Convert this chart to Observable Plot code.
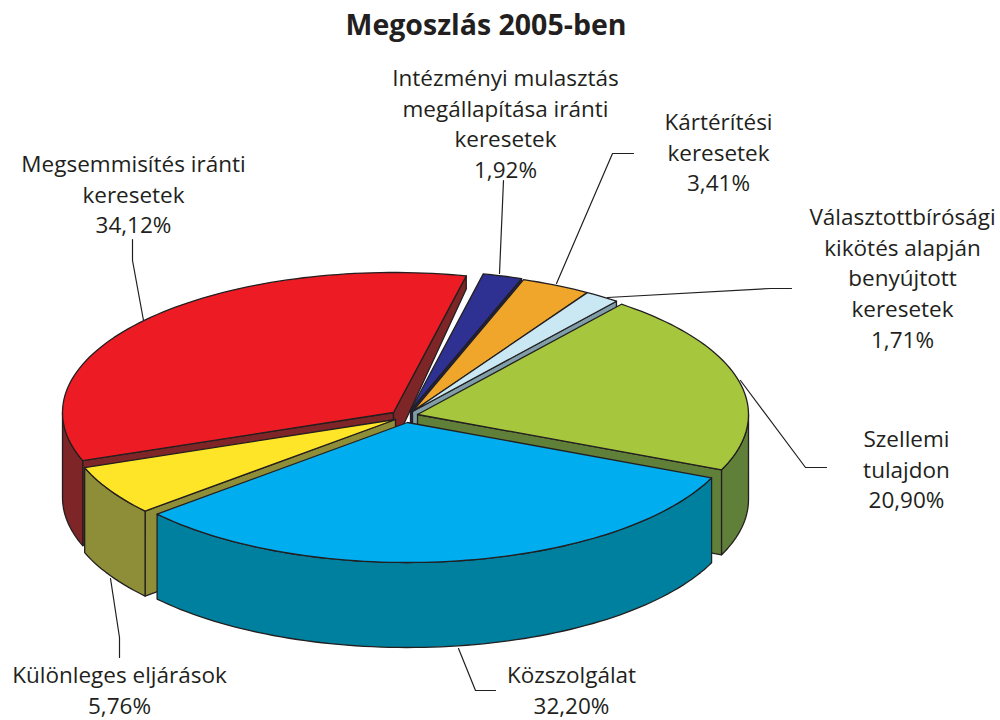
<!DOCTYPE html>
<html lang="hu">
<head>
<meta charset="utf-8">
<script src="https://cdn.jsdelivr.net/npm/d3@7"></script>
<script src="https://cdn.jsdelivr.net/npm/@observablehq/plot@0.6"></script>
<style>
html,body{margin:0;padding:0;background:#fff}
#title{height:50px;width:972px;text-align:center;font:bold 28.5px "Open Sans",sans-serif;color:#231f20;line-height:49px;white-space:nowrap}
#chart svg{display:block}
</style>
</head>
<body>
<div id="title">Megoszlás 2005-ben</div>
<div id="chart"></div>
<script>
// Slices, clockwise from the blue one
const names = ["Intézményi mulasztás\nmegállapítása iránti\nkeresetek","Kártérítési\nkeresetek","Választottbírósági\nkikötés alapján\nbenyújtott\nkeresetek","Szellemi\ntulajdon","Közszolgálat","Különleges eljárások","Megsemmisítés iránti\nkeresetek"];
const values = [1.92,3.41,1.71,20.90,32.20,5.76,34.12];
const valueTexts = ["1,92%","3,41%","1,71%","20,90%","32,20%","5,76%","34,12%"];
const topColors = ["#2e3192","#f0a52b","#c9e8f3","#a6c63e","#00aeef","#ffe528","#ed1c24"];
const sideColors = ["#1f2163","#a0701a","#7f9ea8","#60803a","#00809f","#8f8e38","#7d2527"];

// Layout of the exploded pie (page pixels)
const startAngle = 12.7, rx = 331, ry = 140, depth = 85;
const apexX = [410,412,412,417,407,395,393];
const apexY = [410,411,411,414,422,419,412];
const drawOrder = [6,0,1,2,3,5,4];
const shortWall = {index:6, outer:13, inner:34};
const labelX = [505,718,902,906,571,119,133];
const labelBase = [86,130,225,447,683,683,172];
const leaders = [
  [[503,180],[499,273]],
  [[633,153],[612,153],[556,283]],
  [[791,288],[770,288],[607,297]],
  [[826,467],[805,467],[740,380]],
  [[495,690],[475,690],[458,648]],
  [[119,657],[119,637],[110,578]],
  [[132,239],[132,260],[143,320]]
];
const fontSize = 22.5, lineGap = 30.6;
const inkColor = "#231f20";

const total = d3.sum(values);
let acc = startAngle;
const spans = values.map(v => { const a = acc; acc += v / total * 360; return [a, acc]; });

const polys = [];
const rad = d => d * Math.PI / 180;
function arc(i, a, b, dy = 0) {
  const n = Math.max(2, Math.ceil(Math.abs(b - a) / 1.5));
  return d3.range(n + 1).map(k => {
    const t = rad(a + (b - a) * k / n);
    return [apexX[i] + rx * Math.sin(t), apexY[i] - ry * Math.cos(t) + dy];
  });
}
function add(id, color, pts) {
  const closed = [...pts, pts[0]];
  closed.forEach(p => polys.push({id, color, x: p[0], y: p[1]}));
}
function wall(i, angle, name, outer = depth, inner = depth) {
  const [p] = arc(i, angle, angle + 1);
  const A = [apexX[i], apexY[i]];
  add(`${i}-${name}`, sideColors[i], [A, p, [p[0], p[1] + outer], [A[0], A[1] + inner]]);
}
for (const i of drawOrder) {
  const [a, b] = spans[i];
  const ea = ((b % 360) + 360) % 360, sa = ((a % 360) + 360) % 360;
  // cut faces that look toward the viewer
  if (sa > 180) wall(i, sa, "start");
  if (ea < 180) {
    if (i === shortWall.index) wall(i, ea, "end", shortWall.outer, shortWall.inner);
    else wall(i, ea, "end");
  }
  // outer rim: front half only
  const r0 = Math.max(a, 90), r1 = Math.min(b, 270);
  if (r1 > r0) add(`${i}-rim`, sideColors[i], [...arc(i, r0, r1), ...arc(i, r1, r0, depth)]);
  // top face
  add(`${i}-top`, topColors[i], [[apexX[i], apexY[i]], ...arc(i, a, b)]);
}

const leaderRows = leaders.flatMap((l, i) => l.map(p => ({id: i, x: p[0], y: p[1]})));
const labels = names.map((n, i) => ({text: `${n}\n${valueTexts[i]}`, x: labelX[i], y: labelBase[i]}));

const chart = Plot.plot({
  width: 1000, height: 670,
  margin: 0,
  x: {domain: [0, 1000], range: [0, 1000], axis: null},
  y: {domain: [50, 720], range: [0, 670], axis: null},
  color: {type: "identity"},
  marks: [
    Plot.line(leaderRows, {x: "x", y: "y", z: "id", stroke: inkColor, strokeWidth: 1.2}),
    Plot.line(polys, {x: "x", y: "y", z: "id", fill: "color", stroke: inkColor, strokeWidth: 1.3, strokeLinejoin: "round"}),
    Plot.text(labels, {
      x: "x", y: "y", text: "text", textAnchor: "middle", lineAnchor: "top",
      dy: -0.71 * fontSize - 6, fontSize, lineHeight: lineGap / fontSize,
      fontFamily: "'Open Sans',sans-serif", fill: inkColor
    })
  ]
});
document.getElementById("chart").append(chart);
</script>
</body>
</html>
